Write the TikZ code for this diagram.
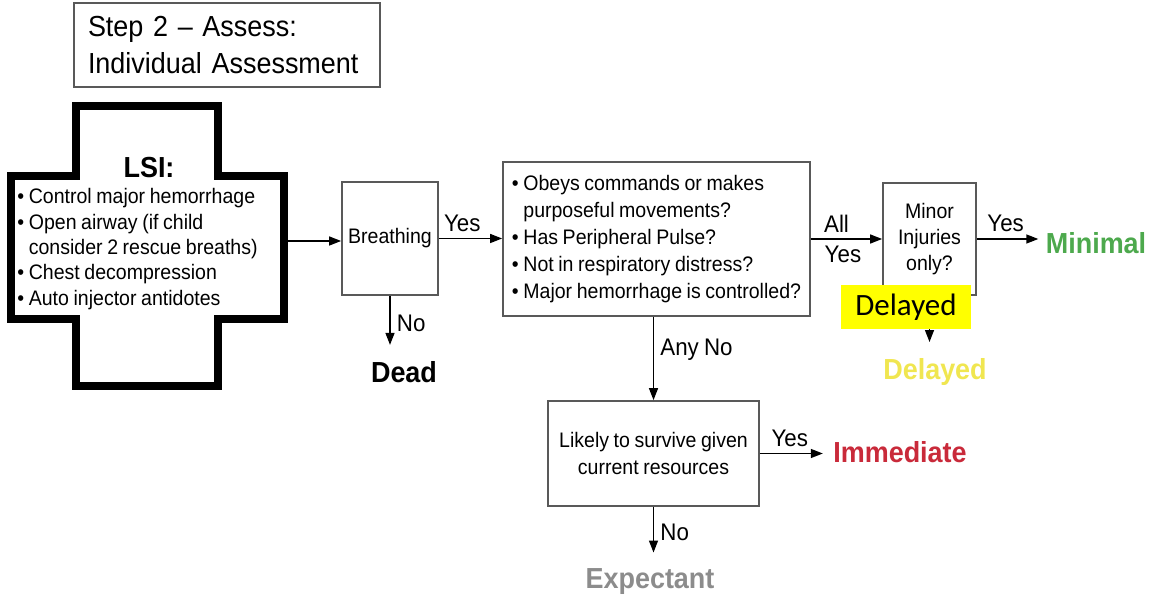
\documentclass[tikz,border=0pt]{standalone}
\usepackage{fontspec}
\setmainfont{Liberation Sans}[FakeStretch=0.93, WordSpace=0.85]
\newfontfamily\calibrifont{Carlito}
\usepackage{xcolor}
\usetikzlibrary{arrows.meta}
\definecolor{boxgray}{HTML}{595959}
\definecolor{mingreen}{HTML}{4DA94D}
\definecolor{immred}{HTML}{C92A3A}
\definecolor{expgray}{HTML}{8C8C8C}
\definecolor{delyellow}{HTML}{F0E650}
\definecolor{hilite}{HTML}{FFFF00}

\begin{document}
\begin{tikzpicture}[
  x=0.5pt, y=-0.5pt,
  stepbox/.style={draw=boxgray, line width=0.8pt, inner sep=0pt, align=center,
                  font=\fontsize{10.5}{12.5}\selectfont},
  outcome/.style={inner sep=0pt, font=\bfseries\fontsize{14.5}{17}\selectfont},
  lbl/.style={inner sep=3pt, font=\fontsize{12}{14}\selectfont},
  arr/.style={draw, line width=0.9pt, -{Triangle[length=6pt,width=4.4pt]}}
]
\useasboundingbox (0,0) rectangle (1156,603);

\node[draw=boxgray, line width=0.6pt, minimum width=153pt, minimum height=42pt,
      text width=139pt, inner xsep=7pt, inner ysep=0pt, align=left,
      font=\fontsize{14.5}{18.5}\selectfont] (title) at (227,45)
      {Step 2 -- Assess:\\Individual Assessment};

\draw[line width=4pt, miter limit=4] (76,106) -- (218,106) -- (218,176) -- (284,176)
  -- (284,319) -- (218,319) -- (218,386) -- (76,386) -- (76,319) -- (11,319)
  -- (11,176) -- (76,176) -- cycle;
\node[inner sep=0pt, font=\bfseries\fontsize{14.5}{17}\selectfont] (lsi) at (149,168) {LSI:};
\node[anchor=north west, inner sep=0pt, align=left,
      font=\fontsize{10.5}{12.7}\selectfont] (lsilist) at (17,188)
      {• Control major hemorrhage\\
       • Open airway (if child\\
       \hphantom{• }consider 2 rescue breaths)\\
       • Chest decompression\\
       • Auto injector antidotes};
\coordinate (lsiE) at (288,241);

\node[stepbox, minimum width=48pt, minimum height=56.5pt] (breath) at (390,238.5) {Breathing};
\node[stepbox, minimum width=153.5pt, minimum height=77pt, align=left,
      font=\fontsize{10.5}{13.6}\selectfont] (checks) at (656.5,239)
      {• Obeys commands or makes\\
       \hphantom{• }purposeful movements?\\
       • Has Peripheral Pulse?\\
       • Not in respiratory distress?\\
       • Major hemorrhage is controlled?};
\node[stepbox, minimum width=46.5pt, minimum height=56pt, font=\fontsize{10.5}{13}\selectfont]
      (minor) at (929.5,239) {Minor\\Injuries\\only?};
\node[stepbox, minimum width=105.5pt, minimum height=52.5pt, font=\fontsize{10.5}{13.5}\selectfont]
      (likely) at (653.5,453.5) {Likely to survive given\\current resources};

\node[outcome] (dead) at (404,372) {Dead};
\node[outcome, text=delyellow] (delayed) at (935,372) {Delayed};
\node[outcome, text=mingreen] (minimal) at (1096,243) {Minimal};
\node[outcome, text=immred] (immediate) at (900,452) {Immediate};
\node[outcome, text=expgray] (expectant) at (650,582) {Expectant};

\draw[arr] (lsiE) -- (lsiE -| breath.west);
\draw[arr] (breath.east) -- node[lbl, above, pos=0.37] {Yes} (breath.east -| checks.west);
\draw[arr, shorten >=8pt] (breath.south) -- node[lbl, right, pos=0.42] {No} (breath.south |- dead.north);
\draw[arr] (minor.west -| checks.east) -- node[lbl, above, pos=0.36] {All}
  node[lbl, below, pos=0.45] {Yes} (minor.west);
\draw[arr, shorten >=3.5pt] (minor.east) -- node[lbl, above, pos=0.42] {Yes} (minor.east -| minimal.west);
\draw[arr, shorten >=8pt] (minor.south) -- (minor.south |- delayed.north);
\draw[arr] (likely.north |- checks.south) -- node[lbl, right, pos=0.4] {Any No} (likely.north);
\draw[arr, shorten >=5pt] (likely.east) -- node[lbl, above, pos=0.41] {Yes} (likely.east -| immediate.west);
\draw[arr, shorten >=8pt] (likely.south) -- node[lbl, right, pos=0.41] {No} (likely.south |- expectant.north);

\node[fill=hilite, minimum width=65pt, minimum height=22pt, inner sep=0pt,
      font=\calibrifont\fontsize{15.5}{18}\selectfont] (delaynote) at (906,307) {Delayed};
\end{tikzpicture}
\end{document}
